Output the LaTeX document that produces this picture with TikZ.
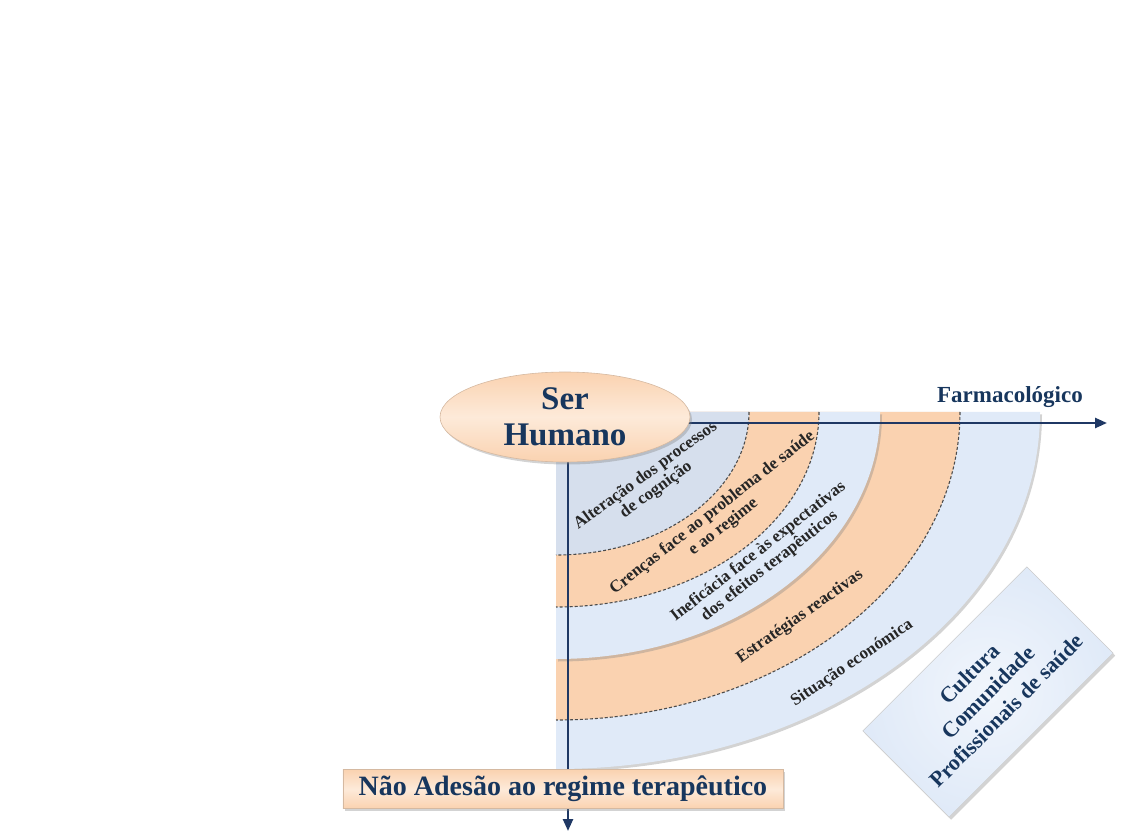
\documentclass[tikz,border=0pt]{standalone}
\usepackage{fontspec}
\setmainfont{Liberation Serif}
\usetikzlibrary{arrows.meta,shapes.geometric,shadows,positioning}

\definecolor{peach}{RGB}{250,210,176}
\definecolor{peachlight}{RGB}{253,234,217}
\definecolor{bandblue}{RGB}{224,234,248}
\definecolor{bandgrey}{RGB}{214,223,237}
\definecolor{navy}{RGB}{23,54,93}
\definecolor{axisblue}{RGB}{31,56,100}

\begin{document}
\begin{tikzpicture}[x=1pt,y=1pt,
    axis/.style={draw=axisblue,line width=2.4pt,-{Triangle[length=12pt,width=10pt]}},
    band edge/.style={draw=black!70,line width=1.1pt,dash pattern=on 3pt off 2pt},
    soft shadow/.style={drop shadow={opacity=.35,shadow xshift=2pt,shadow yshift=-2.5pt}},
    band label/.style={font=\bfseries\fontsize{17}{18}\selectfont,align=center,text=black!85,inner sep=0pt}]
  \useasboundingbox (-556,-420) rectangle (570,412);
  \tikzstyle{peach node}=[draw=peach!70!gray,line width=.6pt,top color=peach,bottom color=peach,middle color=peachlight,soft shadow]

  % quarter bands, outermost first
  \fill[bandblue,soft shadow] (0,0) -- (484,0) arc[start angle=0,end angle=-90,x radius=484,y radius=357] -- cycle;
  \fill[peach] (0,0) -- (404,0) arc[start angle=0,end angle=-90,x radius=404,y radius=308] -- cycle;
  \draw[band edge] (404,0) arc[start angle=0,end angle=-90,x radius=404,y radius=308];
  \fill[bandblue,soft shadow] (0,0) -- (324,0) arc[start angle=0,end angle=-90,x radius=324,y radius=247] -- cycle;
  \fill[peach] (0,0) -- (263,0) arc[start angle=0,end angle=-90,x radius=263,y radius=195] -- cycle;
  \draw[band edge] (263,0) arc[start angle=0,end angle=-90,x radius=263,y radius=195];
  \fill[bandgrey] (0,0) -- (193,0) arc[start angle=0,end angle=-90,x radius=193,y radius=143] -- cycle;
  \draw[band edge] (193,0) arc[start angle=0,end angle=-90,x radius=193,y radius=143];

  \node[band label,rotate=36] (cognition) at (95,-71) {Alteração dos processos\\de cognição};
  \node[band label,rotate=38] (beliefs) at (162,-108) {Crenças face ao problema de saúde\\e ao regime};
  \node[band label,rotate=38] (inefficacy) at (208,-147) {Ineficácia face às expectativas\\dos efeitos terapêuticos};
  \node[band label,rotate=35] (strategies) at (244,-205) {Estratégias reactivas};
  \node[band label,rotate=34] (economy) at (296,-251) {Situação económica};

  % axes
  \coordinate (origin) at (12,-11);
  \coordinate (xend) at (551,-11);
  \coordinate (yend) at (12,-419);
  \draw[axis] (origin) -- (xend);
  \draw[axis] (origin) -- (yend);

  \node[ellipse,peach node,minimum width=250pt,minimum height=90pt,inner xsep=0pt,inner ysep=-6pt,
    align=center,text=navy,font=\bfseries\fontsize{33}{36}\selectfont] (human) at (9,-5) {Ser\\Humano};
  \node[above left=15pt and 24pt of xend,inner sep=0pt,text=navy,font=\bfseries\fontsize{23}{26}\selectfont] (pharma) {Farmacológico};
  \node[rectangle,peach node,minimum width=440pt,minimum height=39pt,inner sep=0pt,
    text=navy,font=\bfseries\fontsize{28}{30}\selectfont] (nonadherence) at (7,-377) {Não Adesão ao regime terapêutico};
  \node[rectangle,draw=gray!40,line width=.6pt,inner color=white!55!bandblue,outer color=bandblue,soft shadow,
    rotate=45,minimum width=232pt,minimum height=122pt,align=center,text=navy,
    font=\bfseries\fontsize{22}{26}\selectfont] (culture) at (432,-280) {Cultura\\Comunidade\\Profissionais de saúde};
\end{tikzpicture}
\end{document}
